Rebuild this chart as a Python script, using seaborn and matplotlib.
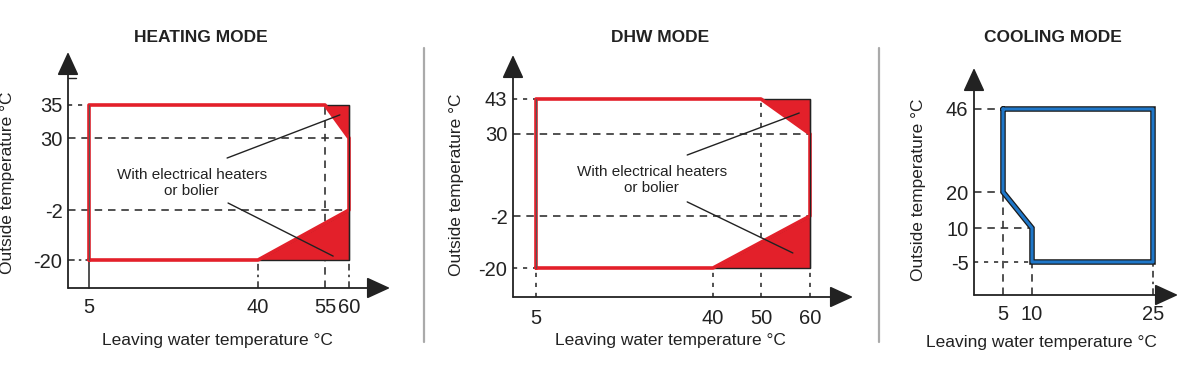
import numpy as np
import matplotlib
matplotlib.use("Agg")
import matplotlib.pyplot as plt
from matplotlib.patches import Polygon
import seaborn as sns

# ---------------- data ----------------
HEAT_X_TICKS = [5, 40, 55, 60]
HEAT_Y_TICKS = [-20, -2, 30, 35]
HEAT_ENV_X = [5, 40, 60, 60, 55, 5, 5]
HEAT_ENV_Y = [-20, -20, -2, 30, 35, 35, -20]
HEAT_TRI_TOP_X = [55, 60, 60]
HEAT_TRI_TOP_Y = [35, 35, 30]
HEAT_TRI_BOT_X = [40, 60, 60]
HEAT_TRI_BOT_Y = [-20, -20, -2]

DHW_X_TICKS = [5, 40, 50, 60]
DHW_Y_TICKS = [-20, -2, 30, 43]
DHW_ENV_X = [5, 40, 60, 60, 50, 5, 5]
DHW_ENV_Y = [-20, -20, -2, 30, 43, 43, -20]
DHW_TRI_TOP_X = [50, 60, 60]
DHW_TRI_TOP_Y = [43, 43, 30]
DHW_TRI_BOT_X = [40, 60, 60]
DHW_TRI_BOT_Y = [-20, -20, -2]

COOL_X_TICKS = [5, 10, 25]
COOL_Y_TICKS = [-5, 10, 20, 46]
COOL_ENV_X = [5, 25, 25, 10, 10, 5, 5]
COOL_ENV_Y = [46, 46, -5, -5, 10, 20, 46]

NOTE_TEXT = "With electrical heaters\nor bolier"
X_LABEL = "Leaving water temperature °C"
Y_LABEL = "Outside temperature °C"
TITLES = ["HEATING MODE", "DHW MODE", "COOLING MODE"]

# ---------------- layout (pixels) ----------------
W, H = 1188, 374
HEAT_BOX = (68, 288, 390, 52)
DHW_BOX = (513, 297, 853, 55)
COOL_BOX = (974, 295, 1178, 68)
HEAT_XPX = [89, 258, 325, 349]
HEAT_YPX = [260, 210, 138, 105]
DHW_XPX = [536, 713, 761, 810]
DHW_YPX = [268, 216, 134, 99]
COOL_XPX = [1003, 1032, 1153]
COOL_YPX = [262, 228, 192, 109]

sns.set_theme(style="white")
plt.rcParams["font.family"] = ["Liberation Sans", "DejaVu Sans"]

INK = "#222222"
RED = "#e3202a"
BLUE = "#1f77c9"


def make_scale(knots, pos):
    k = np.asarray(knots, float)
    p = np.asarray(pos, float)
    s0 = (p[1] - p[0]) / (k[1] - k[0])
    s1 = (p[-1] - p[-2]) / (k[-1] - k[-2])

    def fwd(v):
        v = np.asarray(v, float)
        out = np.interp(v, k, p)
        out = np.where(v < k[0], p[0] + (v - k[0]) * s0, out)
        out = np.where(v > k[-1], p[-1] + (v - k[-1]) * s1, out)
        return out

    def inv(u):
        u = np.asarray(u, float)
        out = np.interp(u, p, k)
        out = np.where(u < p[0], k[0] + (u - p[0]) / s0, out)
        out = np.where(u > p[-1], k[-1] + (u - p[-1]) / s1, out)
        return out

    return fwd, inv


fig = plt.figure(figsize=(W / 100, H / 100), dpi=100)


def make_axes(box, xticks, xpx, yticks, ypx, xpad):
    x0, y0, x1, y1 = box
    ax = fig.add_axes([x0 / W, (H - y0) / H, (x1 - x0) / W, (y0 - y1) / H])
    fx, ix = make_scale(xticks, [p - x0 for p in xpx])
    fy, iy = make_scale(yticks, [y0 - p for p in ypx])
    ax.set_xscale("function", functions=(fx, ix))
    ax.set_yscale("function", functions=(fy, iy))
    ax.set_xlim(float(ix(0)), float(ix(x1 - x0)))
    ax.set_ylim(float(iy(0)), float(iy(y0 - y1)))
    ax.set_xticks(xticks)
    ax.set_xticklabels([str(t) for t in xticks])
    ax.set_yticks(yticks)
    ax.set_yticklabels([str(t) for t in yticks])
    ax.tick_params(axis="x", length=0, pad=xpad, labelsize=14.5, labelcolor=INK)
    ax.tick_params(axis="y", length=0, pad=4, labelsize=14.5, labelcolor=INK)
    for s in ax.spines.values():
        s.set_visible(False)
    ax.patch.set_alpha(0)
    arrow = dict(arrowstyle="-|>,head_length=0.72,head_width=0.33",
                 mutation_scale=20, lw=1.3, color=INK, shrinkA=0, shrinkB=0)
    ax.annotate("", xy=(1, 0), xytext=(0, 0), xycoords="axes fraction",
                textcoords="axes fraction", arrowprops=arrow, annotation_clip=False)
    ax.annotate("", xy=(0, 1), xytext=(0, 0), xycoords="axes fraction",
                textcoords="axes fraction", arrowprops=arrow, annotation_clip=False)
    return ax


def hline(ax, y, x_to, ls):
    xmin = ax.get_xlim()[0]
    ax.plot([xmin, x_to], [y, y], color="#333333", lw=1.2, ls=ls, zorder=1, clip_on=False)


def vline(ax, x, y_from, ls):
    ymin = ax.get_ylim()[0]
    ax.plot([x, x], [ymin, y_from], color="#333333", lw=1.2, ls=ls, zorder=1, clip_on=False)


DASH = (0, (4.5, 3.5))
DOT = (0, (2.5, 3.5))
DASHDOT = (0, (4, 2.5, 1.5, 2.5))


def red_panel(ax, env_x, env_y, tt_x, tt_y, tb_x, tb_y, xt, yt, note_xy, lead1, lead2):
    for tx, ty in [(tt_x, tt_y), (tb_x, tb_y)]:
        ax.add_patch(Polygon(np.column_stack([tx, ty]), closed=True,
                             facecolor=RED, edgecolor=INK, lw=1.0, zorder=2.5))
    sns.lineplot(x=env_x, y=env_y, sort=False, estimator=None, color=RED,
                 lw=2.6, ax=ax, zorder=3)
    ax.plot([xt[-1], xt[-1]], [yt[0], yt[-1]], color=INK, lw=0.9, zorder=3)
    ax.plot([xt[0], xt[0]], [yt[0], yt[-1]], color="#555555", lw=0.8, zorder=3)
    ax.text(note_xy[0], note_xy[1], NOTE_TEXT, ha="center", va="center",
            fontsize=11, color=INK, linespacing=1.25, zorder=5)
    ax.plot(lead1[0], lead1[1], color=INK, lw=1.0, zorder=4)
    ax.plot(lead2[0], lead2[1], color=INK, lw=1.0, zorder=4)


# ---------- Heating ----------
ax1 = make_axes(HEAT_BOX, HEAT_X_TICKS, HEAT_XPX, HEAT_Y_TICKS, HEAT_YPX, 7)
hline(ax1, 35, 5, DOT)
hline(ax1, 30, 60, DASH)
hline(ax1, -2, 60, DASH)
hline(ax1, -20, 5, DASHDOT)
vline(ax1, 5, -20, "-")
vline(ax1, 40, -20, DASHDOT)
vline(ax1, 55, 35, DASH)
vline(ax1, 60, -20, DASHDOT)
red_panel(ax1, HEAT_ENV_X, HEAT_ENV_Y, HEAT_TRI_TOP_X, HEAT_TRI_TOP_Y,
          HEAT_TRI_BOT_X, HEAT_TRI_BOT_Y, HEAT_X_TICKS, HEAT_Y_TICKS,
          (26.3, 10), ([33.6, 58.1], [21.1, 33.5]), ([33.8, 56.7], [1.1, -18.6]))
ax1.plot([0, 0.025], [0.89, 0.89], transform=ax1.transAxes, color=INK, lw=1.0,
         clip_on=False)

# ---------- DHW ----------
ax2 = make_axes(DHW_BOX, DHW_X_TICKS, DHW_XPX, DHW_Y_TICKS, DHW_YPX, 9)
hline(ax2, 43, 5, DOT)
hline(ax2, 30, 60, DASH)
hline(ax2, -2, 60, DASH)
hline(ax2, -20, 5, DOT)
vline(ax2, 5, -20, DOT)
vline(ax2, 40, -20, DOT)
vline(ax2, 50, 43, DOT)
vline(ax2, 60, -20, DOT)
red_panel(ax2, DHW_ENV_X, DHW_ENV_Y, DHW_TRI_TOP_X, DHW_TRI_TOP_Y,
          DHW_TRI_BOT_X, DHW_TRI_BOT_Y, DHW_X_TICKS, DHW_Y_TICKS,
          (27.9, 12), ([34.9, 57.8], [21.8, 37.8]), ([34.9, 56.5], [3.5, -14.8]))

# ---------- Cooling ----------
ax3 = make_axes(COOL_BOX, COOL_X_TICKS, COOL_XPX, COOL_Y_TICKS, COOL_YPX, 7)
hline(ax3, 46, 5, DASH)
hline(ax3, 20, 5, DASH)
hline(ax3, 10, 10, DASH)
hline(ax3, -5, 10, DOT)
vline(ax3, 5, 20, DASH)
vline(ax3, 10, -5, DASH)
vline(ax3, 25, -5, DASHDOT)
ax3.plot(COOL_ENV_X, COOL_ENV_Y, color="#1a1a1a", lw=4.0, zorder=2,
         solid_joinstyle="miter")
sns.lineplot(x=COOL_ENV_X, y=COOL_ENV_Y, sort=False, estimator=None,
             color=BLUE, lw=2.2, ax=ax3, zorder=3)

# ---------- texts ----------
for (cx, cy), t in zip([(201, 38), (660, 37), (1053, 37)], TITLES):
    fig.text(cx / W, 1 - cy / H, t, ha="center", va="center", fontsize=12.5,
             fontweight="bold", color=INK)
for (cx, cy) in [(217, 340), (670, 340), (1041, 343)]:
    fig.text(cx / W, 1 - cy / H, X_LABEL, ha="center", va="center",
             fontsize=12.5, color=INK)
for (cx, cy) in [(8, 183), (457, 185), (918, 190)]:
    fig.text(cx / W, 1 - cy / H, Y_LABEL, ha="center", va="center",
             fontsize=12.5, color=INK, rotation=90)

for sx in [424, 879]:
    fig.add_artist(plt.Line2D([sx / W, sx / W], [1 - 48 / H, 1 - 342 / H],
                              color="#aaaaaa", lw=1.6))

fig.savefig("out.png", dpi=100, facecolor="white")
